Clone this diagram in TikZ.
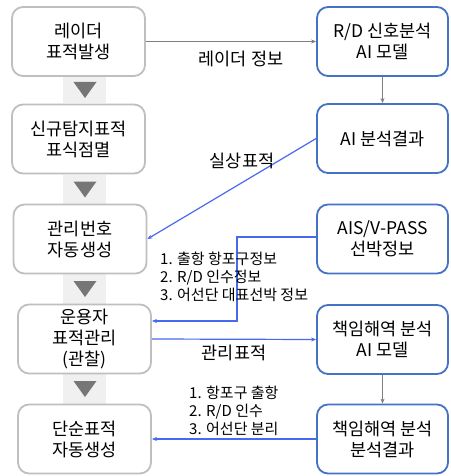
\documentclass[tikz,border=0pt]{standalone}
\usepackage{fontspec}
\setmainfont{Noto Sans CJK KR}
\usetikzlibrary{arrows.meta}
\definecolor{lbord}{RGB}{191,191,191}
\definecolor{rbord}{RGB}{68,114,196}
\definecolor{conblue}{RGB}{72,104,240}
\definecolor{congray}{RGB}{127,127,127}
\definecolor{band}{RGB}{240,240,240}
\definecolor{tri}{RGB}{118,118,118}
\begin{document}
\begin{tikzpicture}[x=1pt,y=-1pt,
  lbox/.style={draw=lbord,line width=1.8pt,rounded corners=11pt,fill=white,minimum width=133pt,minimum height=69pt,align=center,font=\fontsize{17.5}{21}\selectfont,inner sep=0pt},
  rbox/.style={draw=rbord,line width=1.8pt,rounded corners=11pt,fill=white,minimum width=131pt,minimum height=69pt,align=center,font=\fontsize{17.5}{21}\selectfont,inner sep=0pt},
  garrow/.style={draw=congray,line width=1pt,-{Stealth[length=5pt,width=4pt]}},
  barrow/.style={draw=conblue,line width=1.2pt,-{Stealth[length=5pt,width=4pt]}},
  lab/.style={font=\fontsize{17.5}{20}\selectfont,inner sep=0pt},
  lst/.style={font=\fontsize{15}{18}\selectfont,align=left,inner sep=0pt,anchor=base west},
  bandbox/.style={fill=band,draw=none},
  tribox/.style={fill=tri,draw=none}]
\useasboundingbox (0,0) rectangle (450,476);
% bands and triangles
\foreach \ya/\yb in {77/103,175/204,274/304,374/404}{
  \fill[band] (63,\ya) rectangle (106,\yb);
  \fill[tri] (73.5,{\ya+(\yb-\ya)/2-8}) -- (96.5,{\ya+(\yb-\ya)/2-8}) -- (85,{\ya+(\yb-\ya)/2+8}) -- cycle;
}
% left boxes
\node[lbox] (b1) at (78.5,41.5) {레이더\\표적발생};
\node[lbox] (b2) at (78.5,139) {신규탐지표적\\표식점멸};
\node[lbox] (b3) at (80,239) {관리번호\\자동생성};
\node[lbox] (b4) at (84.5,339) {운용자\\표적관리\\(관찰)};
\node[lbox] (b5) at (84.5,439) {단순표적\\자동생성};
% right boxes
\node[rbox] (r1) at (382.5,41.5) {R/D 신호분석\\AI 모델};
\node[rbox] (r2) at (382.5,138.5) {AI 분석결과};
\node[rbox] (r3) at (382.5,239) {AIS/V-PASS\\선박정보};
\node[rbox] (r4) at (382.5,339.5) {책임해역 분석\\AI 모델};
\node[rbox] (r5) at (382.5,439) {책임해역 분석\\분석결과};
% connectors
\draw[garrow] (b1.east) -- (r1.west);
\draw[garrow] (r1.south) -- (r2.north);
\draw[garrow] (r4.south) -- (r5.north);
\draw[barrow] (r2.west) -- (b3.east);
\coordinate (k) at (237,321);
\draw[barrow] ([yshift=2pt]r3.west) -| (k) -- (k -| b4.east);
\draw[barrow] (b4.east) -- (r4.west);
\draw[barrow] (r5.west) -- (b5.east);
% labels
\node[lab] (l1) at (241,59) {레이더\hspace{1.5pt} 정보};
\node[lab] (l2) at (242,161) {실상표적};
\node[lab] (l3) at (234,353) {관리표적};
\node[lst] (t1) at (160,300) {1. 출항 항포구정보\\2. R/D 인수정보\\3. 어선단 대표선박 정보};
\node[lst] (t2) at (189,434) {1. 항포구 출항\\2. R/D 인수\\3. 어선단 분리};
\end{tikzpicture}
\end{document}
